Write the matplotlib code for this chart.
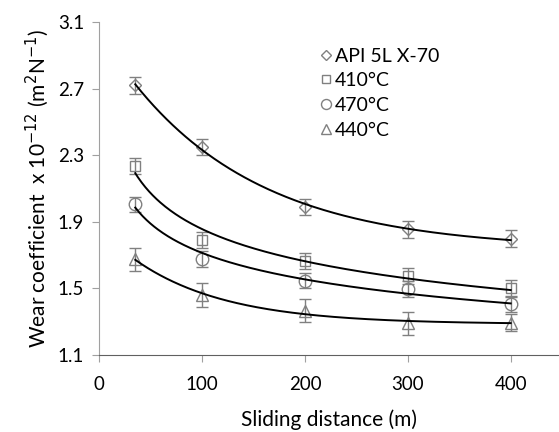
import numpy as np
import matplotlib
matplotlib.use("Agg")
import matplotlib.pyplot as plt

distance = [35, 100, 200, 300, 400]
api = [2.72, 2.35, 1.99, 1.855, 1.80]
t410 = [2.235, 1.79, 1.666, 1.575, 1.50]
t470 = [2.007, 1.68, 1.546, 1.496, 1.405]
t440 = [1.675, 1.46, 1.366, 1.29, 1.295]
err_api = [0.05, 0.05, 0.05, 0.05, 0.05]
err_410 = [0.05, 0.047, 0.05, 0.047, 0.05]
err_470 = [0.045, 0.048, 0.045, 0.047, 0.047]
err_440 = [0.07, 0.07, 0.07, 0.07, 0.05]
labels = ["API 5L X-70", "410°C", "470°C", "440°C"]
markers = ["D", "s", "o", "^"]
trend_types = ["expdecay", "power", "power", "expdecay"]


def trend(x, y, xs, kind):
    x = np.asarray(x, float)
    y = np.asarray(y, float)
    if kind == "power":
        b, lna = np.polyfit(np.log(x), np.log(y), 1)
        return np.exp(lna) * xs ** b
    # y = a + b*exp(-x/c), c by grid search, a and b by least squares
    best = None
    for c in np.linspace(30, 600, 400):
        A = np.column_stack([np.ones_like(x), np.exp(-x / c)])
        coef, *_ = np.linalg.lstsq(A, y, rcond=None)
        r = np.sum((A @ coef - y) ** 2)
        if best is None or r < best[0]:
            best = (r, c, coef)
    _, c, coef = best
    return coef[0] + coef[1] * np.exp(-xs / c)


plt.rcParams['font.family'] = ['Lato', 'DejaVu Sans']
fig = plt.figure(figsize=(5.59, 4.32), dpi=100)
ax = fig.add_axes([0.1776, 0.178, 1.0 - 0.1776, 0.771])

gray = '#808080'
series = [api, t410, t470, t440]
errs = [err_api, err_410, err_470, err_440]
msz = {'D': 6.5, 's': 7.5, 'o': 9, '^': 9}
xs = np.linspace(distance[0], distance[-1], 300)
handles = []
for y, e, m, lab, tt in zip(series, errs, markers, labels, trend_types):
    ax.errorbar(distance, y, yerr=e, fmt='none', ecolor=gray, elinewidth=1.0,
                capsize=4.5, capthick=1.0, zorder=2)
    h, = ax.plot(distance, y, linestyle='none', marker=m, ms=msz[m],
                 mfc='none', mec=gray, mew=1.0, zorder=3, label=lab)
    handles.append(h)
    ax.plot(xs, trend(distance, y, xs, tt), color='black', lw=1.4, zorder=4)

ax.set_xlim(0, 447)
ax.set_ylim(1.1, 3.1)
ax.set_xticks([0, 100, 200, 300, 400])
ax.set_yticks([1.1, 1.5, 1.9, 2.3, 2.7, 3.1])
ax.set_yticklabels(['1.1', '1.5', '1.9', '2.3', '2.7', '3.1'])
for s in ['top', 'right']:
    ax.spines[s].set_visible(False)
ax.spines['left'].set_color('#a0a0a0')
ax.spines['bottom'].set_color('#606060')
ax.tick_params(axis='both', colors='#a0a0a0', labelcolor='black', labelsize=13.5,
               length=5, direction='out')
ax.tick_params(axis='x', pad=10)
ax.tick_params(axis='y', pad=6)
ax.set_xlabel('Sliding distance (m)', fontsize=15, labelpad=12)
ax.set_ylabel('Wear coefficient  x 10$^{-12}$ (m$^{2}$N$^{-1}$)', fontsize=15, labelpad=5)

leg = ax.legend(handles=handles, loc='upper left', bbox_to_anchor=(0.445, 0.976),
                frameon=False, fontsize=14, handlelength=0.45, handletextpad=0.25,
                labelspacing=0.4, markerscale=0.8)

fig.savefig('out.png', dpi=100)
